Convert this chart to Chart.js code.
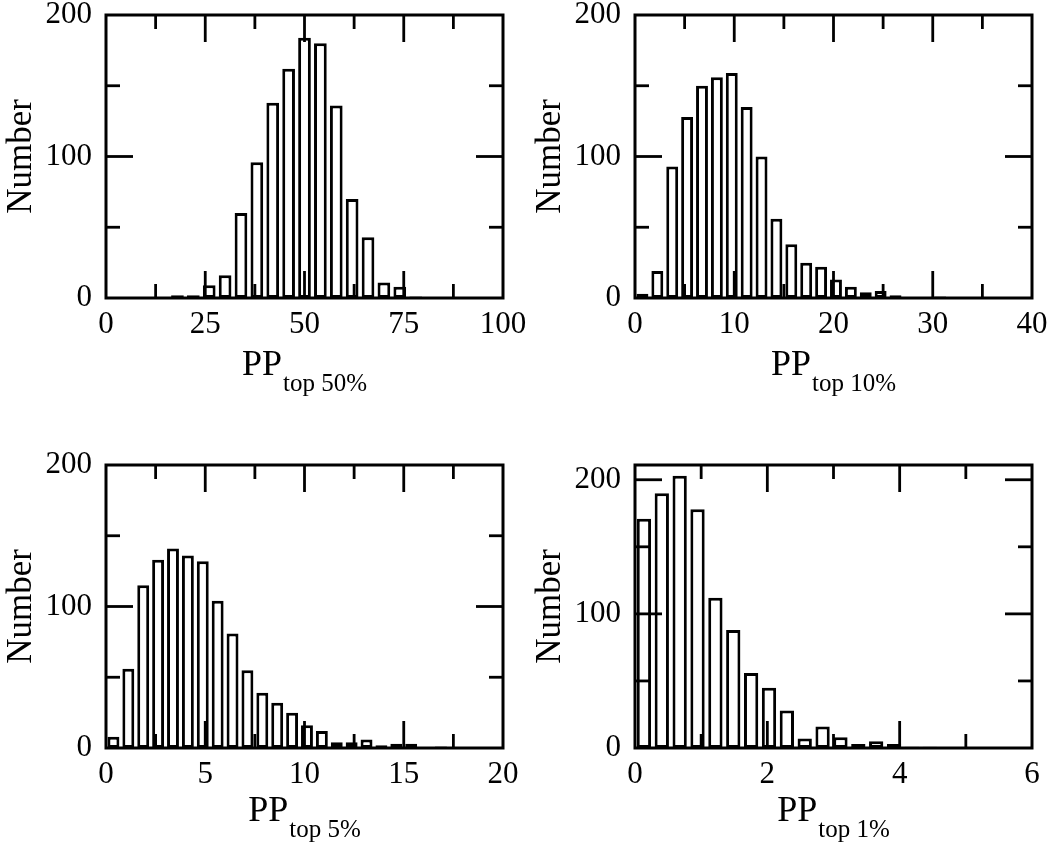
<!DOCTYPE html>
<html><head><meta charset="utf-8">
<script src="https://cdn.jsdelivr.net/npm/chart.js@4.4.1/dist/chart.umd.min.js"></script>
<style>
html,body{margin:0;padding:0;background:#fff;}
body{width:1052px;height:848px;position:relative;overflow:hidden;}
canvas{position:absolute;}
</style></head><body>
<canvas id="c1" width="526" height="424" style="left:0px;top:0px"></canvas>
<canvas id="c2" width="526" height="424" style="left:526px;top:0px"></canvas>
<canvas id="c3" width="526" height="424" style="left:0px;top:424px"></canvas>
<canvas id="c4" width="526" height="424" style="left:526px;top:424px"></canvas>
<script>
// ---- data ----
const yTitle = 'Number';
const xTitleMain = 'PP';
const yTicks = [0, 100, 200];

// PP top 50%
const bins50 = [18,22,26,30,34,38,42,46,50,54,58,62,66,70,74,78];
const counts50 = [2,2,9,16,60,96,138,162,184,180,136,70,43,11,8,1];
const xTicks50 = [0,25,50,75,100];

// PP top 10%
const bins10 = [0.75,2.25,3.75,5.25,6.75,8.25,9.75,11.25,12.75,14.25,15.75,17.25,18.75,20.25,21.75,23.25,24.75,26.25,30.75];
const counts10 = [3,19,93,128,150,156,159,135,100,56,38,25,22,13,8,4,5,2,1];
const xTicks10 = [0,10,20,30,40];

// PP top 5%
const bins5 = [0.375,1.125,1.875,2.625,3.375,4.125,4.875,5.625,6.375,7.125,7.875,8.625,9.375,10.125,10.875,11.625,12.375,13.125,13.875,14.625,15.375,16.875];
const counts5 = [8,56,115,133,141,136,132,104,81,55,39,32,25,16,12,4,4,6,2,3,3,1];
const xTicks5 = [0,5,10,15,20];

// PP top 1%
const bins1 = [0.135,0.405,0.675,0.945,1.215,1.485,1.755,2.025,2.295,2.565,2.835,3.105,3.375,3.645,3.915,4.185,4.455];
const counts1 = [171,190,203,178,112,88,56,45,28,7,16,8,3,5,3,1,1];
const xTicks1 = [0,2,4,6];

const SERIF = "'Liberation Serif','Times New Roman',serif";
const CW = 526, CH = 424;

const panels = [
  {id:'c1', bins:bins50, counts:counts50, xTicks:xTicks50, yMax:200, sub:'top 50%', L:106, T:15, R:503, B:298, tdy:77},
  {id:'c2', bins:bins10, counts:counts10, xTicks:xTicks10, yMax:200, sub:'top 10%', L:109, T:15, R:506, B:298, tdy:77},
  {id:'c3', bins:bins5,  counts:counts5,  xTicks:xTicks5,  yMax:200, sub:'top 5%',  L:106, T:41, R:503, B:324, tdy:73},
  {id:'c4', bins:bins1,  counts:counts1,  xTicks:xTicks1,  yMax:211, sub:'top 1%',  L:109, T:41, R:506, B:324, tdy:73}
];

function withMinor(ticks, max) {
  const out = [];
  for (let i = 0; i < ticks.length; i++) {
    out.push([ticks[i], true]);
    if (i < ticks.length - 1) out.push([(ticks[i] + ticks[i+1]) / 2, false]);
  }
  const step = ticks[1] - ticks[0];
  const last = ticks[ticks.length - 1];
  if (last + step / 2 < max) out.push([last + step / 2, false]);
  return out;
}

const frameTicks = {
  id: 'frameTicks',
  afterDatasetsDraw(chart, args, o) {
    const {ctx, chartArea: a, scales: {x, y}} = chart;
    ctx.save();
    ctx.strokeStyle = '#000';
    ctx.lineCap = 'butt';
    ctx.lineWidth = 2.8;
    const seg = (x1, y1, x2, y2) => { ctx.beginPath(); ctx.moveTo(x1, y1); ctx.lineTo(x2, y2); ctx.stroke(); };
    withMinor(o.xTicks, x.max).forEach(([v, major]) => {
      if (v <= x.min || v >= x.max) return;
      const len = major ? 27 : 14;
      const px = x.getPixelForValue(v);
      seg(px, a.bottom, px, a.bottom - len);
      seg(px, a.top, px, a.top + len);
    });
    withMinor(o.yTicks, y.max).forEach(([v, major]) => {
      if (v <= y.min || v >= y.max) return;
      const len = major ? 27 : 14;
      const py = y.getPixelForValue(v);
      seg(a.left, py, a.left + len, py);
      seg(a.right, py, a.right - len, py);
    });
    ctx.lineWidth = 3;
    ctx.strokeRect(a.left, a.top, a.right - a.left, a.bottom - a.top);
    ctx.restore();
  },
  afterDraw(chart, args, o) {
    const {ctx, chartArea: a} = chart;
    ctx.save();
    ctx.fillStyle = '#000';
    ctx.textBaseline = 'alphabetic';
    ctx.textAlign = 'left';
    ctx.font = '36px ' + SERIF;
    const w1 = ctx.measureText(o.main).width;
    ctx.font = '25px ' + SERIF;
    const w2 = ctx.measureText(o.sub).width;
    const x0 = (a.left + a.right) / 2 - (w1 + w2 + 1) / 2;
    const by = a.bottom + o.tdy;
    ctx.font = '36px ' + SERIF;
    ctx.fillText(o.main, x0, by);
    ctx.font = '25px ' + SERIF;
    ctx.fillText(o.sub, x0 + w1 + 1, by + 16);
    ctx.translate(a.left - 75, (a.top + a.bottom) / 2);
    ctx.rotate(-Math.PI / 2);
    ctx.textAlign = 'center';
    ctx.font = '35px ' + SERIF;
    ctx.fillText(o.ytitle, 0, 0);
    ctx.restore();
  }
};

panels.forEach(p => {
  const tickFont = {family: SERIF, size: 31};
  new Chart(document.getElementById(p.id), {
    type: 'bar',
    data: {
      datasets: [{
        data: p.bins.map((b, i) => ({x: b, y: p.counts[i]})),
        backgroundColor: '#ffffff',
        borderColor: '#000000',
        borderWidth: 3,
        borderSkipped: false,
        barPercentage: 0.8,
        categoryPercentage: 1.0
      }]
    },
    options: {
      responsive: false,
      animation: false,
      devicePixelRatio: 1,
      layout: {padding: {left: 0, top: p.T, right: CW - p.R, bottom: 0}},
      plugins: {
        legend: {display: false},
        tooltip: {enabled: false},
        frameTicks: {xTicks: p.xTicks, yTicks: yTicks, main: xTitleMain, sub: p.sub, ytitle: yTitle, tdy: p.tdy}
      },
      scales: {
        x: {
          type: 'linear', min: p.xTicks[0], max: p.xTicks[p.xTicks.length - 1], offset: false,
          grid: {display: false, drawTicks: false}, border: {display: false},
          ticks: {autoSkip: false, maxRotation: 0, minRotation: 0, padding: 8, color: '#000', font: tickFont},
          afterBuildTicks: s => { s.ticks = p.xTicks.map(v => ({value: v})); },
          afterFit: s => { s.height = CH - p.B; s.paddingLeft = 0; s.paddingRight = 0; }
        },
        y: {
          type: 'linear', min: 0, max: p.yMax,
          grid: {display: false, drawTicks: false}, border: {display: false},
          ticks: {padding: 14, color: '#000', font: tickFont, includeBounds: false},
          afterBuildTicks: s => { s.ticks = yTicks.map(v => ({value: v})); },
          afterFit: s => { s.width = p.L; s.paddingTop = 0; s.paddingBottom = 0; }
        }
      }
    },
    plugins: [frameTicks]
  });
});
</script>
</body></html>
